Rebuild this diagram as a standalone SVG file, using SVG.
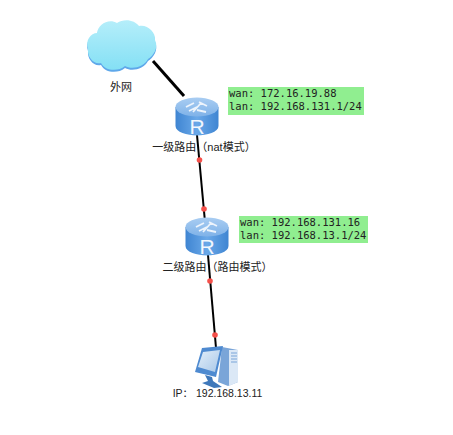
<svg xmlns="http://www.w3.org/2000/svg" width="453" height="435" viewBox="0 0 453 435">
<defs>
<linearGradient id="cyl" x1="0" y1="0" x2="1" y2="0"><stop offset="0" stop-color="#3f85d2"/><stop offset="0.5" stop-color="#6aa8e8"/><stop offset="1" stop-color="#3f85d2"/></linearGradient>
<linearGradient id="top" x1="0" y1="0" x2="0" y2="1"><stop offset="0" stop-color="#a9cdf2"/><stop offset="1" stop-color="#7fb2e8"/></linearGradient>
<linearGradient id="cl" x1="0" y1="0" x2="0" y2="1"><stop offset="0" stop-color="#b5eefa"/><stop offset="1" stop-color="#84e0f5"/></linearGradient>
<linearGradient id="scr" x1="0" y1="0" x2="1" y2="1"><stop offset="0" stop-color="#e2eef9"/><stop offset="1" stop-color="#a9c8e8"/></linearGradient>
<g id="router">
<path d="M-21.500 -11 V8 C-21.500 14 -10 17.500 0 17.500 C10 17.500 21.500 14 21.500 8 V-11 Z" fill="url(#cyl)"/>
<ellipse cx="0" cy="-11" rx="21.500" ry="9.500" fill="url(#top)"/>
<path d="M-11 -11 L-3 -15 M-8 -7 L0 -11 M2 -16 L10 -12 M0 -8 L9 -6 M-4 -6 L4 -15" stroke="#edf4fc" stroke-width="1.800" fill="none"/>
<text x="0" y="16" text-anchor="middle" font-family="'Liberation Sans',sans-serif" font-size="21" fill="#f2f7fd">R</text>
</g>
</defs>
<style>
.l{font-family:"Liberation Sans","Noto Sans CJK SC",sans-serif;font-size:11px;fill:#222}
.m{font-family:"DejaVu Sans Mono","Noto Sans CJK SC",monospace;font-size:10.500px;fill:#222}
.c{stroke:#000;stroke-width:2;fill:none}
.d{fill:#f5504a}
</style>
<rect width="453" height="435" fill="#fff"/>
<g id="connectors">
<line class="c" x1="153" y1="61" x2="184" y2="96" style="stroke-width:3"/>
<line class="c" x1="197" y1="135" x2="205" y2="222"/>
<line class="c" x1="208" y1="255" x2="216" y2="348"/>
<circle class="d" cx="199.500" cy="160" r="2.800"/>
<circle class="d" cx="204" cy="209" r="2.800"/>
<circle class="d" cx="210" cy="281" r="2.800"/>
<circle class="d" cx="215" cy="335" r="2.800"/>
</g>
<g id="cloud">
<path d="M88 49 C85 40 91 33 97 33 C98 25 108 18 117 23 C124 18 135 20 139 26 C147 24 156 32 155 40 C159 48 153 56 148 59 C144 67 132 70 125 66 C118 72 105 71 101 63 C94 65 87 57 88 49 Z" fill="#5fa8ea" transform="translate(0,2)"/>
<path d="M88 49 C85 40 91 33 97 33 C98 25 108 18 117 23 C124 18 135 20 139 26 C147 24 156 32 155 40 C159 48 153 56 148 59 C144 67 132 70 125 66 C118 72 105 71 101 63 C94 65 87 57 88 49 Z" fill="url(#cl)"/>
<text class="l" x="121" y="91" text-anchor="middle">外网</text>
</g>
<g id="router1">
<use href="#router" x="197" y="118"/>
<text class="l" x="204" y="151" text-anchor="middle">一级路由（nat模式）</text>
</g>
<g id="info1">
<rect x="228" y="87" width="136" height="28" fill="#90ee90"/>
<text class="m" x="229" y="97">wan: 172.16.19.88</text>
<text class="m" x="229" y="110">lan: 192.168.131.1/24</text>
</g>
<g id="router2">
<use href="#router" x="207" y="238"/>
<text class="l" x="217.500" y="271" text-anchor="middle">二级路由（路由模式）</text>
</g>
<g id="info2">
<rect x="239" y="216" width="129" height="27" fill="#90ee90"/>
<text class="m" x="240" y="226">wan: 192.168.131.16</text>
<text class="m" x="240" y="239">lan: 192.168.13.1/24</text>
</g>
<g id="pc">
<path d="M222 347 L238 350 V382 L228 386 L218 382 Z" fill="#7aa5d8"/>
<path d="M229 350 L238 350 V382 L229 386 Z" fill="#dbe8f6"/>
<path d="M231 353 L237 353 M231 356 L237 356 M231 359 L237 359 M231 362 L237 362" stroke="#7aa5d8" stroke-width="1"/>
<path d="M202 348 L223 346 L216 377 L195 372 Z" fill="#4e8ad0"/>
<path d="M203 352 L220 350 L215 372 L198 367 Z" fill="url(#scr)"/>
<path d="M205 375 L212 377 L213 381 L222 387 L214 388 L202 383 L208 381 Z" fill="#3f78ba"/>
<text class="l" x="217.500" y="397" text-anchor="middle" style="font-size:10.500px">IP： 192.168.13.11</text>
</g>
</svg>
